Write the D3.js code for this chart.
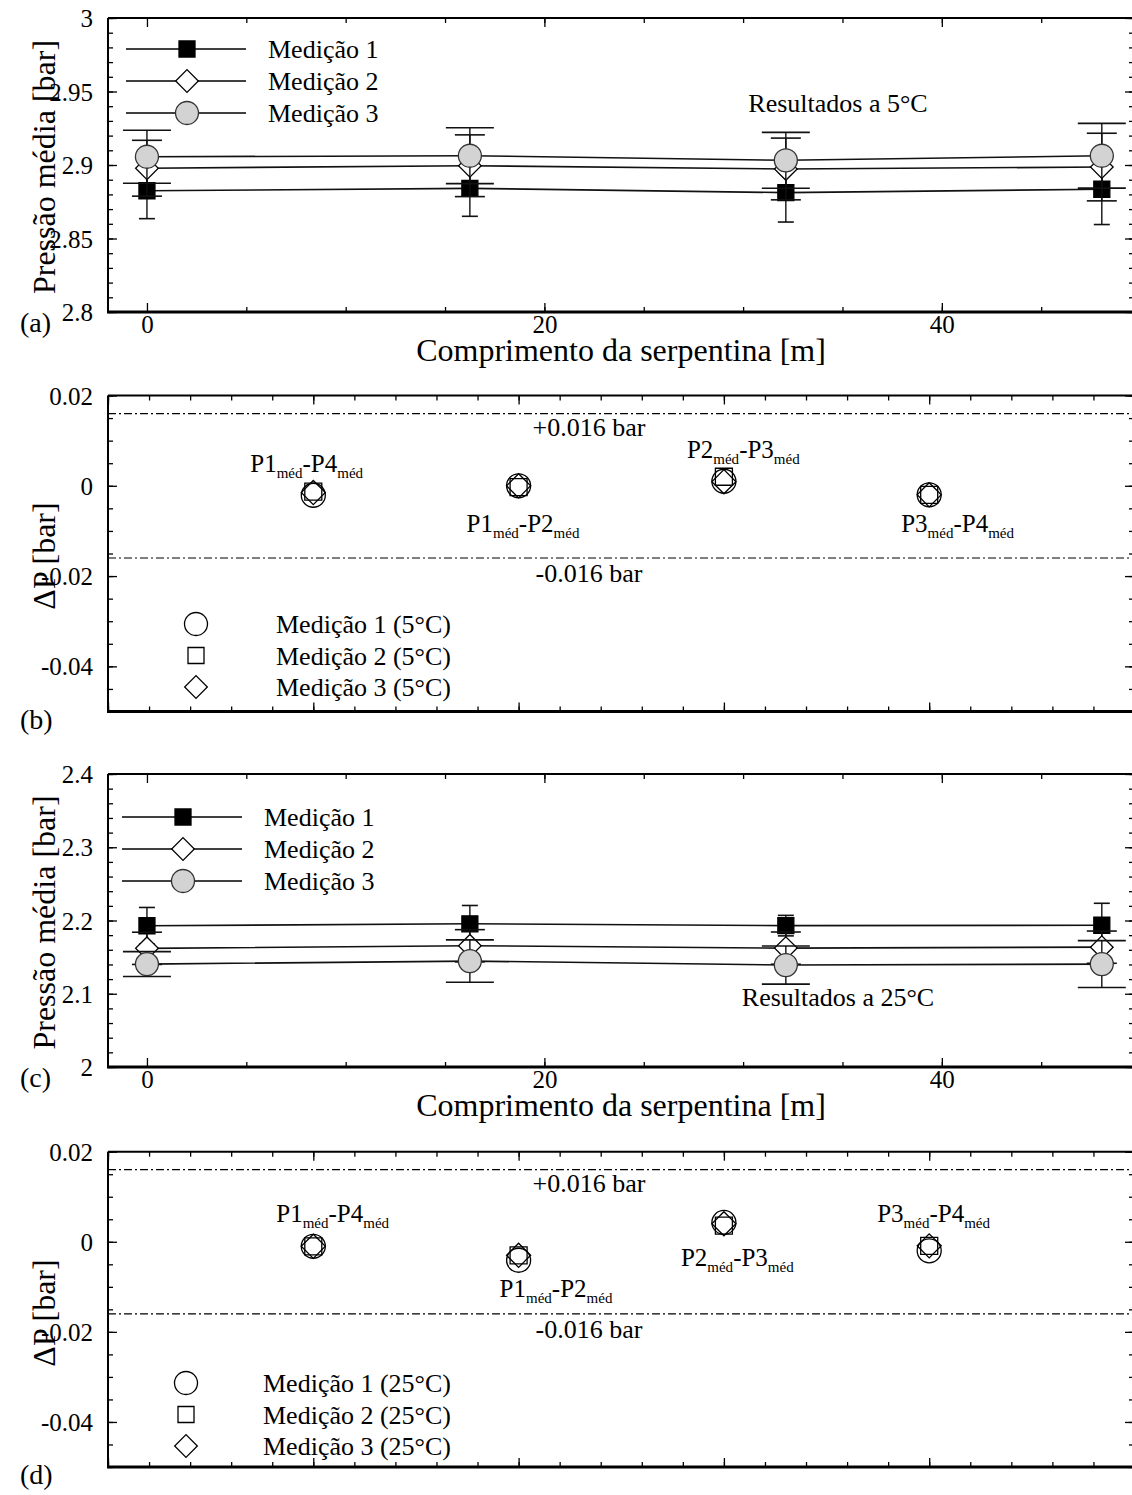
<!DOCTYPE html>
<html><head><meta charset="utf-8">
<script src="https://cdn.jsdelivr.net/npm/d3@7"></script>
<style>
body{margin:0;background:#fff}
svg text{font-family:"Liberation Serif","Times New Roman",serif;fill:#000}
</style>
</head><body>
<svg id="fig" width="1132" height="1495"></svg>
<script>
// ---- data ----
const comprimento = [0, 16.25, 32.15, 48.05];           // posição das tomadas [m]

// pressão média a 5 °C
const p5Med1 = [2.8825, 2.8841, 2.8812, 2.8835];
const p5Med1Err = [0.019, 0.019, 0.020, 0.024];
const p5Med2 = [2.8978, 2.8995, 2.8973, 2.8986];
const p5Med2Err = [0.019, 0.021, 0.021, 0.023];
const p5Med3 = [2.9056, 2.9063, 2.9032, 2.9063];
const p5Med3Err = [0.018, 0.019, 0.019, 0.022];

// pressão média a 25 °C
const p25Med1 = [2.1928, 2.1955, 2.1930, 2.1935];
const p25Med1Err = [0.025, 0.025, 0.014, 0.030];
const p25Med2 = [2.1620, 2.1655, 2.1623, 2.1636];
const p25Med2Err = [0.022, 0.022, 0.022, 0.022];
const p25Med3 = [2.1405, 2.1446, 2.1392, 2.1405];
const p25Med3Err = [0.017, 0.029, 0.026, 0.032];

// diferenças de pressão média entre tomadas
const pares = [1, 2, 3, 4];
const paresNomes = [["P1", "P4"], ["P1", "P2"], ["P2", "P3"], ["P3", "P4"]];
const dp5Med1 = [-0.0021, 0.0000, 0.0010, -0.0020];
const dp5Med2 = [-0.0013, -0.0003, 0.0020, -0.0020];
const dp5Med3 = [-0.0015, 0.0000, 0.0009, -0.0020];
const dp25Med1 = [-0.0010, -0.0041, 0.0043, -0.0020];
const dp25Med2 = [-0.0010, -0.0030, 0.0036, -0.0009];
const dp25Med3 = [-0.0010, -0.0030, 0.0040, -0.0009];
const limite = 0.016;

const legendaP = ["Medição 1", "Medição 2", "Medição 3"];
const legendaDP5 = ["Medição 1 (5°C)", "Medição 2 (5°C)", "Medição 3 (5°C)"];
const legendaDP25 = ["Medição 1 (25°C)", "Medição 2 (25°C)", "Medição 3 (25°C)"];

// ---- drawing ----
const svg = d3.select("#fig");
const L = 108, R = 1134;
const FONT = "'Liberation Serif','Times New Roman',serif";
const hyphen = s => s.replace("\u2212", "-");

function axis(g, fn, scale, values, size, tr, fmt, pad) {
  const a = fn(scale).tickValues(values).tickSize(size)
    .tickPadding(pad || 0).tickFormat(fmt || (() => ""));
  const s = g.append("g").attr("transform", tr).call(a);
  s.select(".domain").remove();
  s.attr("font-family", FONT).attr("font-size", 25);
  s.selectAll("line").attr("stroke", "#000").attr("stroke-width", 1.3);
  s.selectAll("text").attr("fill", "#000");
  return s;
}

function frame(g, x, y, o) {
  const [yb, yt] = y.range();
  // minor ticks
  axis(g, d3.axisBottom, x, o.xMin, -5, `translate(0,${yb})`);
  axis(g, d3.axisTop, x, o.xMin, -5, `translate(0,${yt})`);
  axis(g, d3.axisLeft, y, o.yMin, -5, `translate(${L},0)`);
  axis(g, d3.axisRight, y, o.yMin, -5, `translate(${R},0)`);
  // major ticks
  axis(g, d3.axisBottom, x, o.xMaj, -9, `translate(0,${yb})`, o.xFmt, 3)
    .selectAll("text").attr("dy", "0.71em");
  axis(g, d3.axisTop, x, o.xMaj, -9, `translate(0,${yt})`);
  axis(g, d3.axisLeft, y, o.yMaj, -9, `translate(${L},0)`, o.yFmt, 15)
    .selectAll("text").attr("dy", "0.34em");
  axis(g, d3.axisRight, y, o.yMaj, -9, `translate(${R},0)`);
  // box
  g.append("line").attr("x1", L).attr("x2", L).attr("y1", yt).attr("y2", yb)
    .attr("stroke", "#000").attr("stroke-width", 2);
  g.append("line").attr("x1", L).attr("x2", R).attr("y1", yt).attr("y2", yt)
    .attr("stroke", "#000").attr("stroke-width", 2);
  g.append("line").attr("x1", L - 1).attr("x2", R).attr("y1", yb).attr("y2", yb)
    .attr("stroke", "#000").attr("stroke-width", 3);
}

function txt(g, x, y, s, size, anchor) {
  return g.append("text").attr("x", x).attr("y", y).attr("font-size", size)
    .attr("text-anchor", anchor || "start").text(s);
}

function yTitle(g, cy, s) {
  g.append("text").attr("transform", `translate(44,${cy}) rotate(-90)`)
    .attr("text-anchor", "middle").attr("dominant-baseline", "central")
    .attr("font-size", 32).text(s);
}

const sym = {
  square: (s) => d3.symbol(d3.symbolSquare, s * s)(),
  diamond: (s) => d3.symbol(d3.symbolSquare, s * s)(),
  circle: (s) => d3.symbol(d3.symbolCircle, Math.PI * s * s / 4)()
};
const symRot = { square: 0, diamond: 45, circle: 0 };

function marker(g, kind, px, py, size, fill, stroke) {
  g.append("path").attr("d", sym[kind](size))
    .attr("transform", `translate(${px},${py}) rotate(${symRot[kind]})`)
    .attr("fill", fill).attr("stroke", stroke).attr("stroke-width", 1.3);
}

// estilo das três medições nos gráficos de pressão
const estiloP = [
  { kind: "square", size: 16, fill: "#000", stroke: "#000", cap: 8 },
  { kind: "diamond", size: 16, fill: "#fff", stroke: "#000", cap: 15 },
  { kind: "circle", size: 23, fill: "#d3d3d3", stroke: "#333", cap: 24 }
];
// estilo das três medições nos gráficos de ΔP
const estiloDP = [
  { kind: "circle", size: 24 },
  { kind: "square", size: 17 },
  { kind: "diamond", size: 17 }
];

function pressurePanel(o) {
  const g = svg.append("g");
  const x = d3.scaleLinear().domain([-1.96, 49.67]).range([L, R]);
  const y = d3.scaleLinear().domain(o.yDom).range([o.bottom, o.top]);
  frame(g, x, y, {
    xMaj: [0, 20, 40], xMin: d3.range(5, 50, 5),
    yMaj: o.yMaj, yMin: o.yMin, yFmt: o.yFmt, xFmt: d3.format("d")
  });
  const line = d3.line().x((d, i) => x(comprimento[i])).y(d => y(d));
  o.series.forEach(s => {
    g.append("path").attr("d", line(s.v)).attr("fill", "none")
      .attr("stroke", "#111").attr("stroke-width", 1.6);
  });
  o.series.forEach((s, k) => {
    const st = estiloP[k];
    s.v.forEach((v, i) => {
      const px = x(comprimento[i]);
      const y1 = y(v + s.e[i]), y2 = y(v - s.e[i]);
      g.append("line").attr("x1", px).attr("x2", px).attr("y1", y1).attr("y2", y2)
        .attr("stroke", "#111").attr("stroke-width", 1.4);
      [y1, y2].forEach(yy => g.append("line").attr("x1", px - st.cap).attr("x2", px + st.cap)
        .attr("y1", yy).attr("y2", yy).attr("stroke", "#111").attr("stroke-width", 1.6));
      marker(g, st.kind, px, y(v), st.size, st.fill, st.stroke);
    });
  });
  // legenda
  legendaP.forEach((t, k) => {
    const ly = o.leg.y + k * 32;
    g.append("line").attr("x1", o.leg.x - 61).attr("x2", o.leg.x + 59)
      .attr("y1", ly).attr("y2", ly).attr("stroke", "#000").attr("stroke-width", 1.4);
    const st = estiloP[k];
    marker(g, st.kind, o.leg.x, ly, st.size, st.fill, st.stroke);
    txt(g, o.leg.x + 81, ly + 9, t, 26);
  });
  txt(g, 838, o.noteY, o.note, 26, "middle");
  // eixos
  txt(g, 621, o.bottom + 49, "Comprimento da serpentina [m]", 32, "middle");
  yTitle(g, (o.top + o.bottom) / 2 + 2, "Pressão média [bar]");
  txt(g, 20, o.bottom + 20, o.letter, 28);
  return g;
}

function deltaPanel(o) {
  const g = svg.append("g");
  const x = d3.scaleLinear().domain([0, 5]).range([L, R + 0.5]);
  const y = d3.scaleLinear().domain([-0.05, 0.02]).range([o.bottom, o.top]);
  frame(g, x, y, {
    xMaj: d3.range(0, 5.01, 1), xMin: d3.range(0, 5.01, 0.2),
    yMaj: [-0.04, -0.02, 0, 0.02], yMin: d3.range(-0.05, 0.0201, 0.005),
    yFmt: d => d === 0 ? "0" : hyphen(d3.format(".2f")(d))
  });
  // limites
  [limite, -limite].forEach(v => {
    g.append("line").attr("x1", L).attr("x2", R).attr("y1", y(v)).attr("y2", y(v))
      .attr("stroke", "#000").attr("stroke-width", 1.2).attr("stroke-dasharray", "8,3,2,3");
  });
  txt(g, 589, y(limite) + 22, "+0.016 bar", 26, "middle");
  txt(g, 589, y(-limite) + 24, "-0.016 bar", 26, "middle");
  // pontos
  o.series.forEach((vals, k) => {
    const st = estiloDP[k];
    vals.forEach((v, i) => marker(g, st.kind, x(pares[i]), y(v), st.size, "none", "#000"));
  });
  // rótulos dos pares
  paresNomes.forEach((p, i) => {
    const pos = o.labels[i];
    const t = g.append("text").attr("x", x(pares[i]) + pos[0]).attr("y", pos[1]).attr("font-size", 25);
    t.append("tspan").text(p[0]);
    t.append("tspan").attr("font-size", 15).attr("dy", 6).text("méd");
    t.append("tspan").attr("dy", -6).text("-" + p[1]);
    t.append("tspan").attr("font-size", 15).attr("dy", 6).text("méd");
  });
  // legenda
  o.leg.names.forEach((t, k) => {
    const ly = o.leg.y + k * 31.5;
    const st = estiloDP[k];
    marker(g, st.kind, o.leg.x, ly, st.size - 1, "#fff", "#000");
    txt(g, o.leg.tx, ly + 9, t, 26);
  });
  yTitle(g, o.titleY, "ΔP [bar]");
  txt(g, 20, o.bottom + 17, o.letter, 28);
  return g;
}

pressurePanel({
  top: 18, bottom: 312, yDom: [2.8, 3.0],
  yMaj: [2.8, 2.85, 2.9, 2.95, 3.0], yMin: d3.range(2.8, 3.0001, 0.01),
  yFmt: d => String(+d.toFixed(2)),
  series: [{ v: p5Med1, e: p5Med1Err }, { v: p5Med2, e: p5Med2Err }, { v: p5Med3, e: p5Med3Err }],
  leg: { x: 187, y: 49 }, note: "Resultados a 5°C", noteY: 112, letter: "(a)"
});

deltaPanel({
  top: 395.5, bottom: 711.5,
  series: [dp5Med1, dp5Med2, dp5Med3],
  labels: [[-63, 472], [-52, 532], [-37, 458], [-28, 532]],
  leg: { x: 196, y: 624, tx: 276, names: legendaDP5 },
  titleY: 556, letter: "(b)"
});

pressurePanel({
  top: 774, bottom: 1067, yDom: [2.0, 2.4],
  yMaj: [2.0, 2.1, 2.2, 2.3, 2.4], yMin: d3.range(2.0, 2.4001, 0.02),
  yFmt: d => String(+d.toFixed(1)),
  series: [{ v: p25Med1, e: p25Med1Err }, { v: p25Med2, e: p25Med2Err }, { v: p25Med3, e: p25Med3Err }],
  leg: { x: 183, y: 817 }, note: "Resultados a 25°C", noteY: 1006, letter: "(c)"
});

deltaPanel({
  top: 1151.7, bottom: 1467,
  series: [dp25Med1, dp25Med2, dp25Med3],
  labels: [[-37, 1222], [-19, 1297], [-43, 1266], [-52, 1222]],
  leg: { x: 186, y: 1383, tx: 263, names: legendaDP25 },
  titleY: 1313, letter: "(d)"
});
</script>
</body></html>
